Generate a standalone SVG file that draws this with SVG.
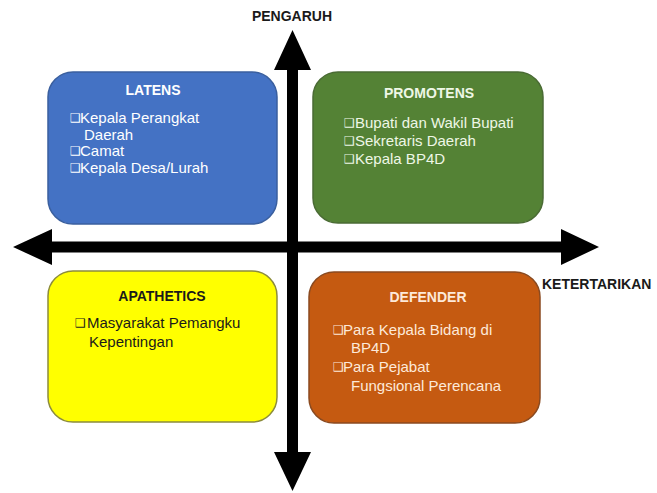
<svg xmlns="http://www.w3.org/2000/svg" width="657" height="493" viewBox="0 0 657 493">
<style>
.box{stroke-width:1.5}
.t{font-family:"Liberation Sans",Arial,sans-serif;font-weight:bold;font-size:14px;text-anchor:middle}
.b{font-family:"Liberation Sans",Arial,sans-serif;font-size:15px}
.bul{font-family:"DejaVu Sans",sans-serif;font-size:12px}
.ax{font-family:"Liberation Sans",Arial,sans-serif;font-weight:bold;font-size:14px;fill:#1a1a1a}
</style>
<rect width="657" height="493" fill="#ffffff"/>
<g id="latens">
<rect class="box" x="48" y="72" width="229" height="152" rx="25" fill="#4472C4" stroke="#3a5f9e"/>
<g fill="#ffffff">
<text class="t" x="153" y="95">LATENS</text>
<text class="bul" x="70" y="122">❑</text><text class="b" x="80" y="123">Kepala Perangkat</text>
<text class="b" x="84" y="140">Daerah</text>
<text class="bul" x="70" y="155">❑</text><text class="b" x="80" y="156">Camat</text>
<text class="bul" x="70" y="172">❑</text><text class="b" x="80" y="173">Kepala Desa/Lurah</text>
</g>
</g>
<g id="promotens">
<rect class="box" x="313" y="72" width="230" height="151" rx="25" fill="#548235" stroke="#4a6b34"/>
<g fill="#eef7e6">
<text class="t" x="429" y="98">PROMOTENS</text>
<text class="bul" x="344" y="127">❑</text><text class="b" x="355" y="128">Bupati dan Wakil Bupati</text>
<text class="bul" x="344" y="145">❑</text><text class="b" x="355" y="146">Sekretaris Daerah</text>
<text class="bul" x="344" y="163">❑</text><text class="b" x="355" y="164">Kepala BP4D</text>
</g>
</g>
<g id="apathetics">
<rect class="box" x="48" y="271" width="229" height="151" rx="25" fill="#FFFF00" stroke="#8c8c3c"/>
<g fill="#1a1a1a">
<text class="t" x="162" y="301">APATHETICS</text>
<text class="bul" x="75" y="327">❑</text><text class="b" x="87" y="328">Masyarakat Pemangku</text>
<text class="b" x="89" y="347">Kepentingan</text>
</g>
</g>
<g id="defender">
<rect class="box" x="309" y="272" width="231" height="151" rx="25" fill="#C55A11" stroke="#8a4a20"/>
<g fill="#fde9d9">
<text class="t" x="428" y="302">DEFENDER</text>
<text class="bul" x="333" y="334">❑</text><text class="b" x="343" y="335">Para Kepala Bidang di</text>
<text class="b" x="351" y="353">BP4D</text>
<text class="bul" x="333" y="371">❑</text><text class="b" x="343" y="372">Para Pejabat</text>
<text class="b" x="351" y="391">Fungsional Perencana</text>
</g>
</g>
<g id="connectors" fill="#000000">
<polygon points="292.5,30 311,70 298,70 298,452 311,452 292.5,491 274,452 287,452 287,70 274,70"/>
<polygon points="13,247 52,229 52,241.5 561,241.5 561,229 599,247 561,265 561,252.5 52,252.5 52,265"/>
</g>
<text class="ax" x="292" y="21" text-anchor="middle">PENGARUH</text>
<text class="ax" x="542" y="289">KETERTARIKAN</text>
</svg>
